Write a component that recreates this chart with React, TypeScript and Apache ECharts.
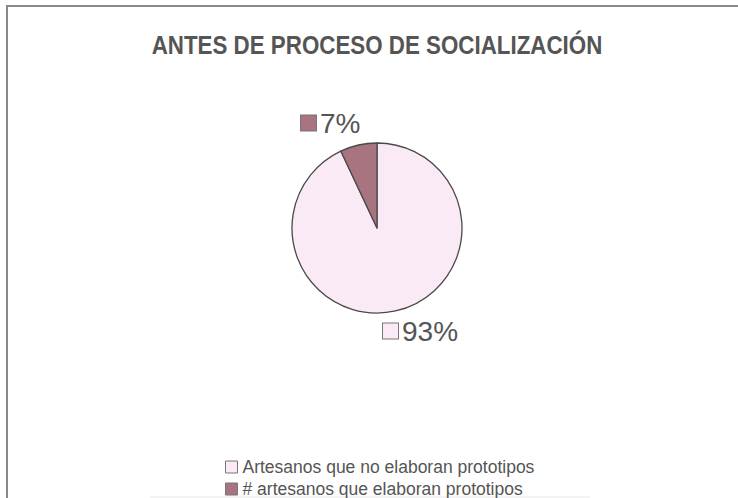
import React, { useEffect, useRef } from "react";
import * as echarts from "echarts";

const titleText = "ANTES DE PROCESO DE SOCIALIZACIÓN";
const categories = [
  "Artesanos que no elaboran prototipos",
  "# artesanos que elaboran prototipos",
];
const values = [93, 7];
const colors = ["#FAEAF6", "#A8747F"];
// label anchor positions (left x, middle y) for each slice label
const labelPos = [
  [383, 331],
  [301, 123],
];

export default function App() {
  const ref = useRef<HTMLDivElement>(null);
  useEffect(() => {
    if (!ref.current) return;
    const chart = echarts.init(ref.current, null, { renderer: "svg" });
    const rich: any = {
      t: { fontSize: 28, color: "#555", fontFamily: "Liberation Sans, Arial, sans-serif", padding: [0, 0, 0, 4] },
    };
    colors.forEach((c, i) => {
      rich["sq" + i] = {
        width: 15,
        height: 15,
        backgroundColor: c,
        borderColor: "#777",
        borderWidth: 1,
      };
    });
    chart.setOption({
      animation: false,
      backgroundColor: "#ffffff",
      color: colors,
      legend: {
        orient: "vertical",
        left: 220,
        top: 452,
        height: 80,
        itemWidth: 12,
        itemHeight: 12,
        itemGap: 2,
        icon: "rect",
        data: categories,
        itemStyle: { borderColor: "#777", borderWidth: 1 },
        textStyle: {
          fontSize: 17.5,
          lineHeight: 20,
          color: "#555",
          fontFamily: "Liberation Sans, Arial, sans-serif",
        },
      },
      graphic: [
        {
          type: "rect",
          shape: { x: 7, y: 6, width: 800, height: 600 },
          style: { fill: "none", stroke: "#8a8a8a", lineWidth: 2 },
          silent: true,
        },
        {
          type: "line",
          shape: { x1: 150, y1: 497, x2: 590, y2: 497 },
          style: { stroke: "#e8e8e8", lineWidth: 1 },
          silent: true,
        },
        {
          type: "text",
          x: 377,
          y: 45,
          scaleX: 0.86,
          style: {
            text: titleText,
            fontFamily: "Liberation Sans, Arial, sans-serif",
            fontWeight: "bold",
            fontSize: 26,
            fill: "#555",
            textAlign: "center",
            textVerticalAlign: "middle",
          },
          silent: true,
        },
      ],
      series: [
        {
          type: "pie",
          center: [377, 228],
          radius: 85,
          startAngle: 90,
          clockwise: true,
          data: categories.map((name, i) => ({ name, value: values[i] })),
          itemStyle: { borderColor: "#4a4a4a", borderWidth: 1.3 },
          label: {
            show: true,
            position: "outside",
            formatter: (p: any) => `{sq${p.dataIndex}|}{t|${Math.round(p.percent)}%}`,
            rich,
          },
          labelLine: { show: false },
          labelLayout: (p: any) => ({
            x: labelPos[p.dataIndex][0],
            y: labelPos[p.dataIndex][1],
            align: "left",
            verticalAlign: "middle",
          }),
          emphasis: { disabled: true },
        },
      ],
    });
    return () => chart.dispose();
  }, []);
  return (
    <div
      ref={ref}
      style={{ position: "fixed", left: 0, top: 0, width: 738, height: 498 }}
    />
  );
}
